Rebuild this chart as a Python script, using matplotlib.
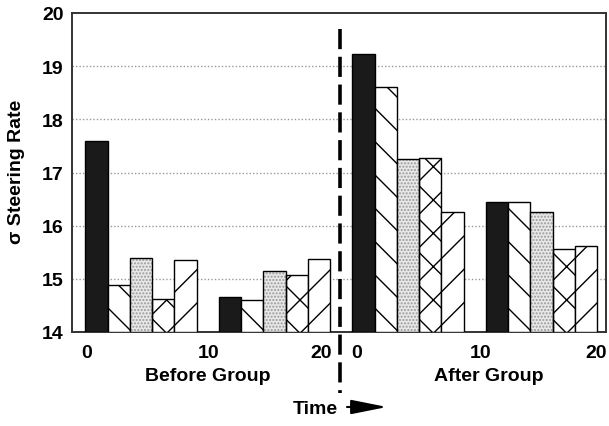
import numpy as np
import matplotlib.pyplot as plt

plt.rcParams['font.family'] = ['Liberation Sans', 'DejaVu Sans']
plt.rcParams['font.weight'] = 'bold'
plt.rcParams['hatch.linewidth'] = 1.0

# groups: before group t=0, t=10 / after group t=0, t=10
groups = ["before_0", "before_10", "after_0", "after_10"]
solid = [17.6, 14.65, 19.22, 16.45]
back_hatch = [14.88, 14.6, 18.6, 16.45]
dotted = [15.4, 15.15, 17.26, 16.25]
cross = [14.62, 15.07, 17.27, 15.57]
fwd_hatch = [15.35, 15.37, 16.25, 15.62]

tick_labels = ["0", "10", "20", "0", "10", "20"]
yticks = [14, 15, 16, 17, 18, 19, 20]

series = [solid, back_hatch, dotted, cross, fwd_hatch]

fig = plt.figure(figsize=(6.09, 4.27), dpi=100)
ax = fig.add_axes([72/609, 1-333/427, 534/609, 319/427])

slot = 6
x0 = np.arange(len(groups)) * slot + 0.6

for i, vals in enumerate(series):
    x = x0 + i
    h = np.array(vals) - 14
    if i == 0:
        ax.bar(x, h, bottom=14, width=1, align='edge', color='#1a1a1a',
               edgecolor='black', lw=1, zorder=3)
    elif i == 2:
        ax.bar(x, h, bottom=14, width=1, align='edge', color='#e8e8e8',
               edgecolor='#999999', hatch='.....', lw=0, zorder=3)
        ax.bar(x, h, bottom=14, width=1, align='edge', fill=False,
               edgecolor='black', lw=1, zorder=4)
    else:
        hatch = {1: '\\', 3: 'x', 4: '/'}[i]
        ax.bar(x, h, bottom=14, width=1, align='edge', color='white',
               edgecolor='black', hatch=hatch, lw=1, zorder=3)

ax.set_xlim(0, 24)
ax.set_ylim(14, 20)
ax.set_yticks(yticks)
ax.set_yticklabels([str(v) for v in yticks], fontsize=14, fontweight='bold')
ax.set_xticks([0.67, 6.16, 11.19, 12.81, 18.38, 23.55])
ax.set_xticklabels(tick_labels, fontsize=14, fontweight='bold')
ax.tick_params(axis='both', length=0)
ax.tick_params(axis='x', pad=9)
ax.tick_params(axis='y', pad=6)

for y in yticks[1:-1]:
    ax.axhline(y, color='#999999', lw=1, ls=(0, (1, 1.5)), zorder=1)

for s in ax.spines.values():
    s.set_color('#333333')
    s.set_linewidth(1.4)

fig.text(17/609, 1-172/427, "σ Steering Rate", rotation=90, ha='center',
         va='center', fontsize=14, fontweight='bold')

# divider between before / after
lw = 2.6
ax.plot([12.05, 12.05], [19.7, 12.85], color='black', lw=lw,
        dashes=(14.5/lw, 5.5/lw), clip_on=False, zorder=6)

fig.text(208/609, 1-377/427, "Before Group", ha='center', va='center',
         fontsize=14, fontweight='bold')
fig.text(489/609, 1-377/427, "After Group", ha='center', va='center',
         fontsize=14, fontweight='bold')
fig.text(315/609, 1-410/427, "Time", ha='center', va='center',
         fontsize=14, fontweight='bold')
ax.annotate("", xy=(387/609, 1-408/427), xytext=(347/609, 1-408/427),
            xycoords='figure fraction', textcoords='figure fraction',
            arrowprops=dict(arrowstyle='-|>,head_length=1.1,head_width=0.22',
                            mutation_scale=20, color='black', lw=1.5,
                            shrinkA=0, shrinkB=0))

fig.savefig("out.png", dpi=100)
